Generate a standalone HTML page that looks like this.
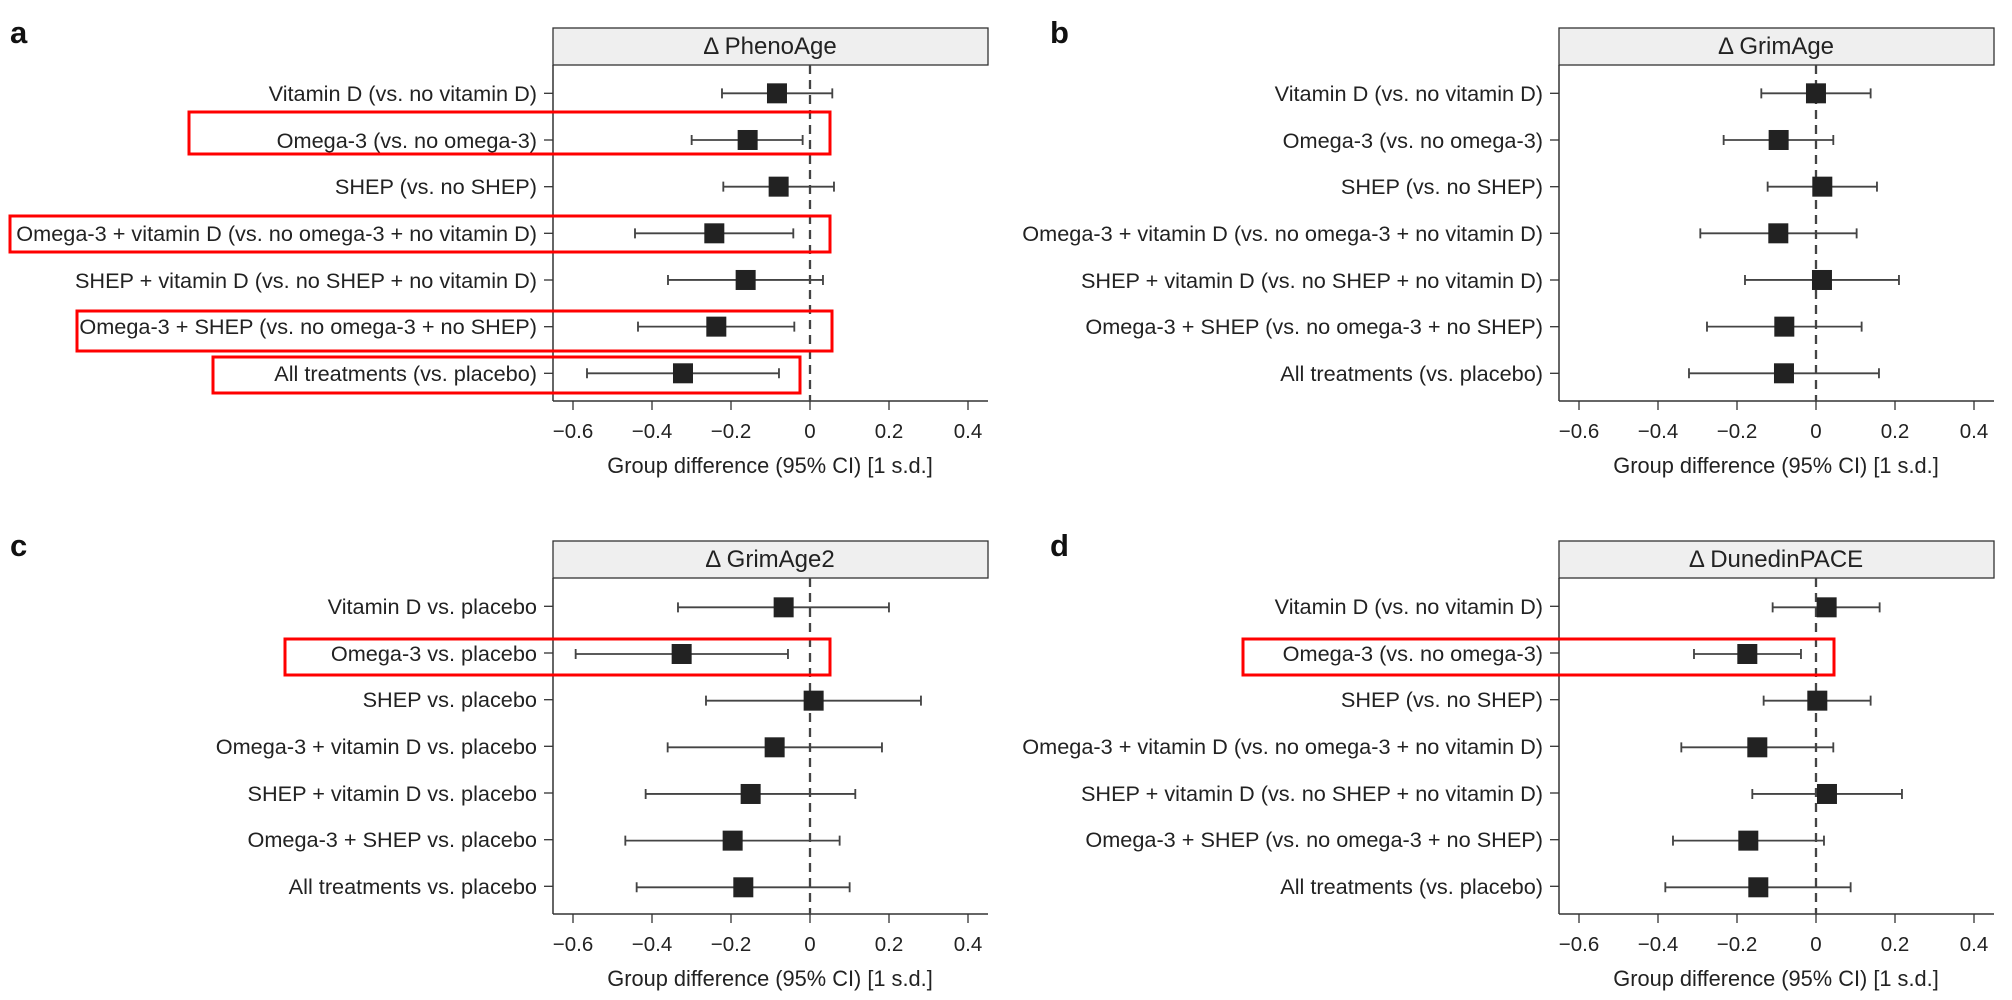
<!DOCTYPE html>
<html><head><meta charset="utf-8"><style>
body{margin:0;background:#fff;}
svg{display:block;font-family:"Liberation Sans",sans-serif;}
</style></head><body>
<svg width="2012" height="1000" viewBox="0 0 2012 1000" xmlns="http://www.w3.org/2000/svg">
<g font-weight="bold" font-size="31" fill="#111">
<text x="10" y="43">a</text><text x="1050" y="43">b</text>
<text x="10" y="556">c</text><text x="1050" y="556">d</text>
</g>
<defs>
<g id="axis">
<rect x="0" y="-37" width="435" height="37" fill="#efefef" stroke="#333" stroke-width="1.3"/>
<line x1="0" y1="0" x2="0" y2="336" stroke="#333" stroke-width="1.5"/>
<line x1="0" y1="336" x2="435" y2="336" stroke="#333" stroke-width="1.5"/>
<g stroke="#333" stroke-width="1.3">
<line x1="20" y1="336" x2="20" y2="345"/><line x1="99" y1="336" x2="99" y2="345"/>
<line x1="178" y1="336" x2="178" y2="345"/><line x1="257" y1="336" x2="257" y2="345"/>
<line x1="336" y1="336" x2="336" y2="345"/><line x1="415" y1="336" x2="415" y2="345"/>
<line x1="-9" y1="28.3" x2="0" y2="28.3"/><line x1="-9" y1="75" x2="0" y2="75"/>
<line x1="-9" y1="121.7" x2="0" y2="121.7"/><line x1="-9" y1="168.3" x2="0" y2="168.3"/>
<line x1="-9" y1="215" x2="0" y2="215"/><line x1="-9" y1="261.7" x2="0" y2="261.7"/>
<line x1="-9" y1="308.3" x2="0" y2="308.3"/>
</g>
<line x1="257" y1="0" x2="257" y2="336" stroke="#444" stroke-width="2.3" stroke-dasharray="9,6"/>
<g font-size="20.5" fill="#222" text-anchor="middle">
<text x="20" y="373">−0.6</text><text x="99" y="373">−0.4</text><text x="178" y="373">−0.2</text>
<text x="257" y="373">0</text><text x="336" y="373">0.2</text><text x="415" y="373">0.4</text>
<text x="217" y="408" font-size="21.8">Group difference (95% CI) [1 s.d.]</text>
</g>
</g>
</defs>

<!-- Panel a -->
<g transform="translate(553,65)">
<use href="#axis"/>
<text x="217" y="-11" font-size="24" text-anchor="middle" fill="#222">Δ PhenoAge</text>
<g font-size="21.7" fill="#222" text-anchor="end">
<text x="-16" y="36">Vitamin D (vs. no vitamin D)</text>
<text x="-16" y="83">Omega-3 (vs. no omega-3)</text>
<text x="-16" y="129">SHEP (vs. no SHEP)</text>
<text x="-16" y="176">Omega-3 + vitamin D (vs. no omega-3 + no vitamin D)</text>
<text x="-16" y="223">SHEP + vitamin D (vs. no SHEP + no vitamin D)</text>
<text x="-16" y="269">Omega-3 + SHEP (vs. no omega-3 + no SHEP)</text>
<text x="-16" y="316">All treatments (vs. placebo)</text>
</g>
<g transform="scale(0.3333)" stroke="#444" stroke-width="5.5" fill="#222">
<path d="M507 85H838M507 70V100M838 70V100"/><rect x="642" y="55" width="60" height="60" stroke="none"/>
<path d="M416 225H749M416 210V240M749 210V240"/><rect x="554" y="195" width="60" height="60" stroke="none"/>
<path d="M511 365H843M511 350V380M843 350V380"/><rect x="647" y="335" width="60" height="60" stroke="none"/>
<path d="M246 505H721M246 490V520M721 490V520"/><rect x="454" y="475" width="60" height="60" stroke="none"/>
<path d="M345 645H810M345 630V660M810 630V660"/><rect x="548" y="615" width="60" height="60" stroke="none"/>
<path d="M255 785H724M255 770V800M724 770V800"/><rect x="460" y="755" width="60" height="60" stroke="none"/>
<path d="M102 925H678M102 910V940M678 910V940"/><rect x="360" y="895" width="60" height="60" stroke="none"/>
</g>
</g>
<g fill="none" stroke="#f00" stroke-width="3">
<rect x="189" y="112" width="641" height="42"/>
<rect x="10" y="216" width="820" height="36"/>
<rect x="77" y="311" width="755" height="40"/>
<rect x="213" y="357" width="587" height="36"/>
</g>

<!-- Panel b -->
<g transform="translate(1559,65)">
<use href="#axis"/>
<text x="217" y="-11" font-size="24" text-anchor="middle" fill="#222">Δ GrimAge</text>
<g font-size="21.7" fill="#222" text-anchor="end">
<text x="-16" y="36">Vitamin D (vs. no vitamin D)</text>
<text x="-16" y="83">Omega-3 (vs. no omega-3)</text>
<text x="-16" y="129">SHEP (vs. no SHEP)</text>
<text x="-16" y="176">Omega-3 + vitamin D (vs. no omega-3 + no vitamin D)</text>
<text x="-16" y="223">SHEP + vitamin D (vs. no SHEP + no vitamin D)</text>
<text x="-16" y="269">Omega-3 + SHEP (vs. no omega-3 + no SHEP)</text>
<text x="-16" y="316">All treatments (vs. placebo)</text>
</g>
<g transform="scale(0.3333)" stroke="#444" stroke-width="5.5" fill="#222">
<path d="M607 85H935M607 70V100M935 70V100"/><rect x="741" y="55" width="60" height="60" stroke="none"/>
<path d="M494 225H823M494 210V240M823 210V240"/><rect x="629" y="195" width="60" height="60" stroke="none"/>
<path d="M626 365H954M626 350V380M954 350V380"/><rect x="760" y="335" width="60" height="60" stroke="none"/>
<path d="M424 505H893M424 490V520M893 490V520"/><rect x="628" y="475" width="60" height="60" stroke="none"/>
<path d="M558 645H1020M558 630V660M1020 630V660"/><rect x="759" y="615" width="60" height="60" stroke="none"/>
<path d="M444 785H908M444 770V800M908 770V800"/><rect x="646" y="755" width="60" height="60" stroke="none"/>
<path d="M390 925H960M390 910V940M960 910V940"/><rect x="645" y="895" width="60" height="60" stroke="none"/>
</g>
</g>

<!-- Panel c -->
<g transform="translate(553,578)">
<use href="#axis"/>
<text x="217" y="-11" font-size="24" text-anchor="middle" fill="#222">Δ GrimAge2</text>
<g font-size="21.7" fill="#222" text-anchor="end">
<text x="-16" y="36">Vitamin D vs. placebo</text>
<text x="-16" y="83">Omega-3 vs. placebo</text>
<text x="-16" y="129">SHEP vs. placebo</text>
<text x="-16" y="176">Omega-3 + vitamin D vs. placebo</text>
<text x="-16" y="223">SHEP + vitamin D vs. placebo</text>
<text x="-16" y="269">Omega-3 + SHEP vs. placebo</text>
<text x="-16" y="316">All treatments vs. placebo</text>
</g>
<g transform="scale(0.3333)" stroke="#444" stroke-width="5.5" fill="#222">
<path d="M375 88H1008M375 73V103M1008 73V103"/><rect x="662" y="58" width="60" height="60" stroke="none"/>
<path d="M68 228H705M68 213V243M705 213V243"/><rect x="356" y="198" width="60" height="60" stroke="none"/>
<path d="M459 368H1104M459 353V383M1104 353V383"/><rect x="752" y="338" width="60" height="60" stroke="none"/>
<path d="M344 508H987M344 493V523M987 493V523"/><rect x="635" y="478" width="60" height="60" stroke="none"/>
<path d="M278 648H907M278 633V663M907 633V663"/><rect x="563" y="618" width="60" height="60" stroke="none"/>
<path d="M217 788H860M217 773V803M860 773V803"/><rect x="509" y="758" width="60" height="60" stroke="none"/>
<path d="M251 928H890M251 913V943M890 913V943"/><rect x="541" y="898" width="60" height="60" stroke="none"/>
</g>
</g>
<rect x="285" y="639" width="545" height="36" fill="none" stroke="#f00" stroke-width="3"/>

<!-- Panel d -->
<g transform="translate(1559,578)">
<use href="#axis"/>
<text x="217" y="-11" font-size="24" text-anchor="middle" fill="#222">Δ DunedinPACE</text>
<g font-size="21.7" fill="#222" text-anchor="end">
<text x="-16" y="36">Vitamin D (vs. no vitamin D)</text>
<text x="-16" y="83">Omega-3 (vs. no omega-3)</text>
<text x="-16" y="129">SHEP (vs. no SHEP)</text>
<text x="-16" y="176">Omega-3 + vitamin D (vs. no omega-3 + no vitamin D)</text>
<text x="-16" y="223">SHEP + vitamin D (vs. no SHEP + no vitamin D)</text>
<text x="-16" y="269">Omega-3 + SHEP (vs. no omega-3 + no SHEP)</text>
<text x="-16" y="316">All treatments (vs. placebo)</text>
</g>
<g transform="scale(0.3333)" stroke="#444" stroke-width="5.5" fill="#222">
<path d="M641 88H962M641 73V103M962 73V103"/><rect x="773" y="58" width="60" height="60" stroke="none"/>
<path d="M405 228H726M405 213V243M726 213V243"/><rect x="535" y="198" width="60" height="60" stroke="none"/>
<path d="M614 368H935M614 353V383M935 353V383"/><rect x="745" y="338" width="60" height="60" stroke="none"/>
<path d="M367 508H823M367 493V523M823 493V523"/><rect x="565" y="478" width="60" height="60" stroke="none"/>
<path d="M580 648H1029M580 633V663M1029 633V663"/><rect x="774" y="618" width="60" height="60" stroke="none"/>
<path d="M342 788H795M342 773V803M795 773V803"/><rect x="538" y="758" width="60" height="60" stroke="none"/>
<path d="M319 928H875M319 913V943M875 913V943"/><rect x="568" y="898" width="60" height="60" stroke="none"/>
</g>
</g>
<rect x="1243" y="639" width="591" height="36" fill="none" stroke="#f00" stroke-width="3"/>
</svg>
</body></html>
